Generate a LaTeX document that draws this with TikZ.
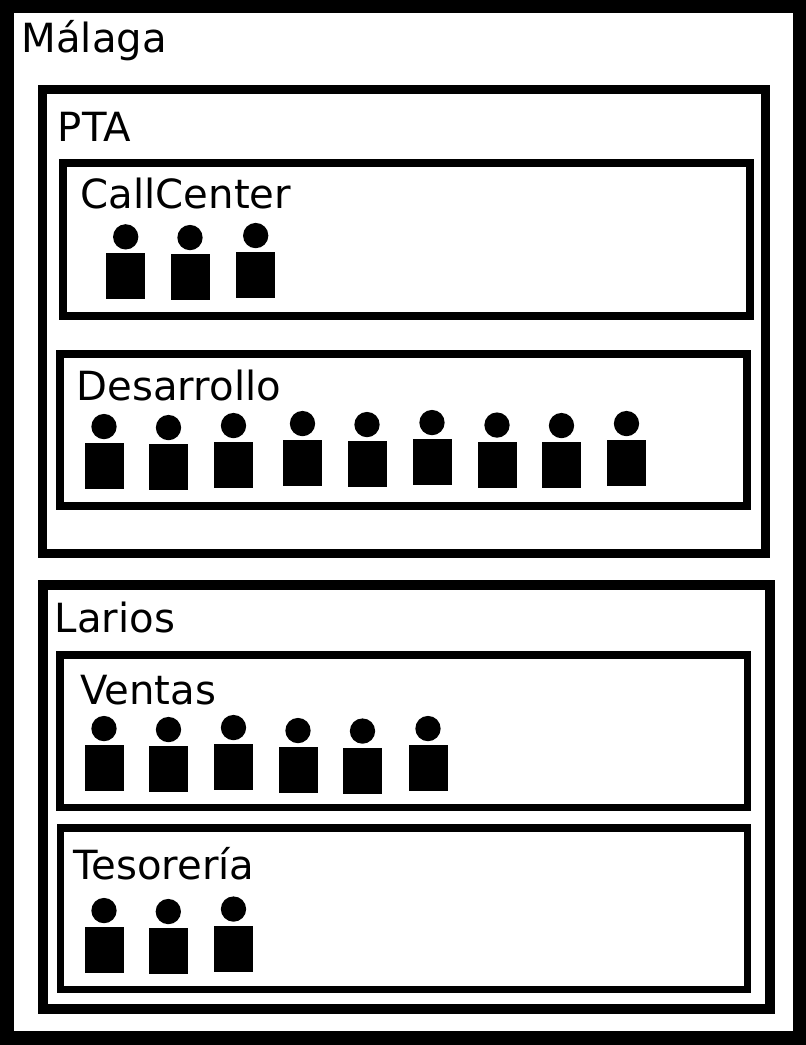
\documentclass[tikz,border=0pt]{standalone}
\usepackage{fontspec}
\setmainfont{DejaVu Sans}
\usetikzlibrary{positioning}
\tikzset{
    wall/.style={draw=black,fill=white,line width=#1},
    wall/.default=7.6pt,
    title/.style={anchor=base west,inner sep=0pt,font=\fontsize{40.2}{48}\selectfont},
    body/.style={fill=black,inner sep=0pt,minimum width=39pt,minimum height=46pt},
    head/.style={circle,fill=black,inner sep=0pt,minimum size=25.3pt}
}
\begin{document}
\begin{tikzpicture}[x=1pt,y=-1pt]
\useasboundingbox (0,0) rectangle (806,1045);
% edificios
\draw[wall=13.5pt] (6.75,6.7) rectangle (799.25,1037.75);
\draw[wall=9pt] (42.2,89.5) rectangle (765.3,553.5);
\draw[wall=10.3pt] (43,585.2) rectangle (770,1008.9);
% departamentos
\draw[wall] (62.8,162.8) rectangle (750.2,315.8);
\draw[wall] (60,354) rectangle (746.9,506.2);
\draw[wall] (60.2,654.8) rectangle (747.5,807.4);
\draw[wall] (60.4,827.8) rectangle (747.5,989.5);
% titulos
\node[title] (malaga) at (21.3,52) {Málaga};
\node[title] (pta) at (57.6,141.7) {PTA};
\node[title] (callcenter) at (80.5,208) {CallCenter};
\node[title] (desarrollo) at (76.5,400) {Desarrollo};
\node[title] (larios) at (54.7,632) {Larios};
\node[title] (ventas) at (80,704) {Ventas};
\node[title] (tesoreria) at (73.5,879) {Tesorería};
% personas
\foreach \x/\y [count=\i] in {125.7/276.3,190/277,255.7/275}
{
    \node[body] (cc-\i) at (\x,\y) {};
    \node[head,above=3.4pt of cc-\i] (cch-\i) {};
}
\foreach \x/\y [count=\i] in {104/466,168.5/467,233.5/465,302.5/463,367/464,432/462,497/464.5,561.5/465,626.5/463}
{
    \node[body] (de-\i) at (\x,\y) {};
    \node[head,above=3.4pt of de-\i] (deh-\i) {};
}
\foreach \x/\y [count=\i] in {104/768,168.5/769,233.5/767,298/770,362.5/770.5,428/768}
{
    \node[body] (ve-\i) at (\x,\y) {};
    \node[head,above=3.4pt of ve-\i] (veh-\i) {};
}
\foreach \x/\y [count=\i] in {104/950,168.3/951,233.5/948.5}
{
    \node[body] (te-\i) at (\x,\y) {};
    \node[head,above=3.4pt of te-\i] (teh-\i) {};
}
\end{tikzpicture}
\end{document}
